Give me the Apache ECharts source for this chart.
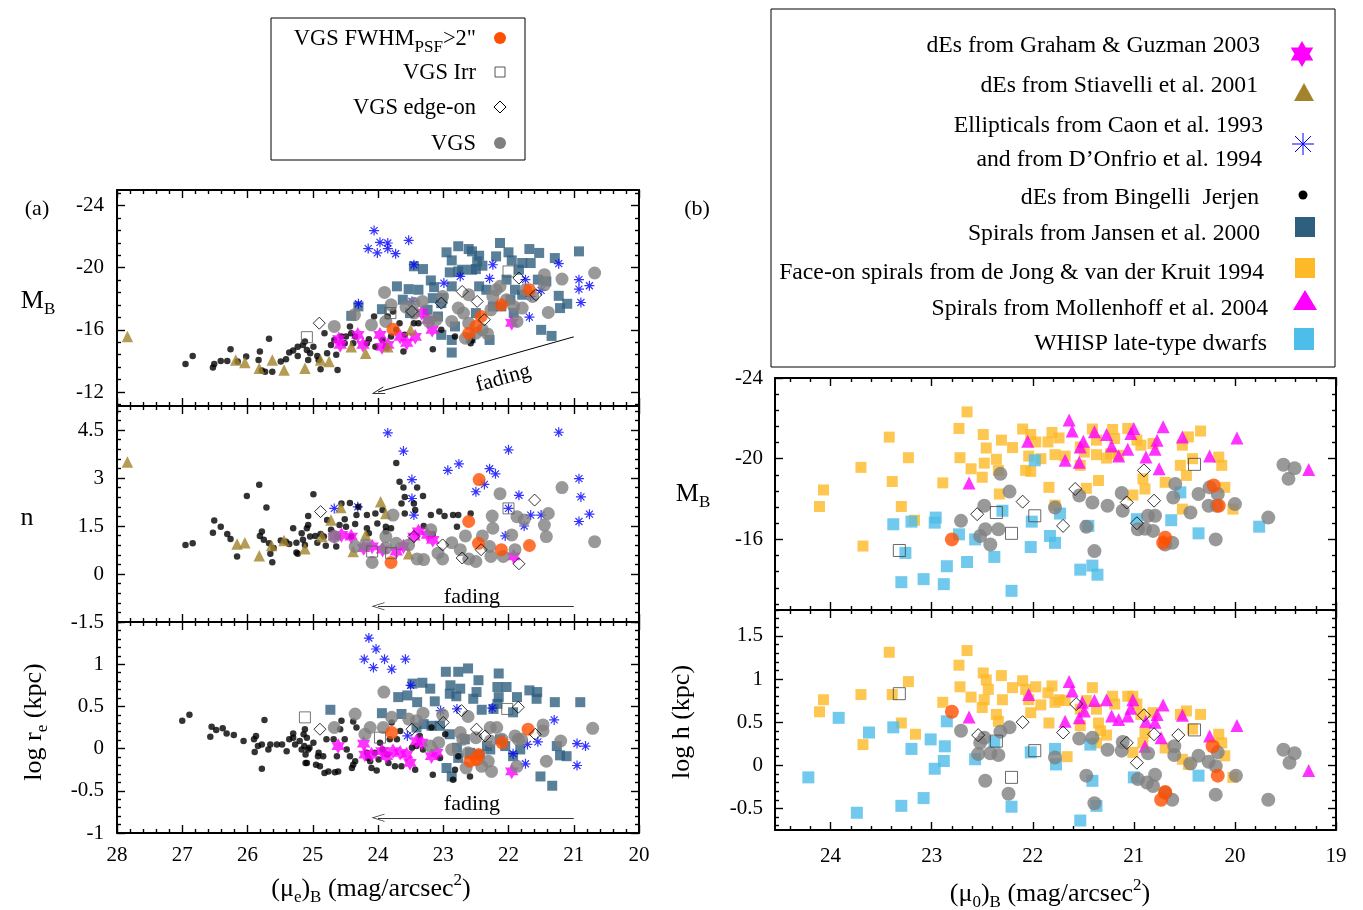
<!DOCTYPE html>
<html><head><meta charset="utf-8">
<script src="https://cdn.jsdelivr.net/npm/echarts@6.0.0/dist/echarts.min.js"></script>
<style>html,body{margin:0;padding:0;background:#fff}#c{width:1363px;height:910px}</style>
</head><body><div id="c"></div>
<script>
// ---------------- tick labels ----------------
const xTicksA = [28,27,26,25,24,23,22,21,20];
const yTicksMB_A = [-24,-20,-16,-12];
const yTicksN = [4.5,3,1.5,0,-1.5];
const yTicksRe = [1,0.5,0,-0.5,-1];
const xTicksB = [24,23,22,21,20,19];
const yTicksMB_B = [-24,-20,-16];
const yTicksH = [1.5,1,0.5,0,-0.5];

// ---------------- panel (a) top: mu_e vs M_B ----------------
const st_a1 = [[27.84,-15.57],[26.18,-14.06],[26.04,-13.9],[25.82,-13.53],[25.62,-14.06],[25.44,-13.42],[25.12,-13.53],[24.88,-14.06],[24.75,-13.96],[24.41,-14.92],[24.19,-14.49],[23.85,-14.92],[23.5,-16.0]];
const gg_a1 = [[24.58,-15.03],[24.31,-15.68],[24.23,-15.03],[23.97,-15.68],[23.94,-14.9],[23.85,-15.03],[23.66,-15.55],[23.56,-15.16],[23.43,-15.55],[23.23,-16.65],[23.17,-16.0],[23.33,-17.1],[21.95,-16.45],[24.6,-15.4]];
const bj_a1 = [[26.95,-13.81],[26.84,-14.32],[26.53,-13.57],[26.51,-13.81],[26.41,-14.0],[26.31,-14.0],[26.26,-14.75],[26.15,-13.96],[26.02,-14.28],[25.83,-14.06],[25.81,-14.6],[25.78,-13.38],[25.73,-13.31],[25.67,-15.42],[25.62,-13.31],[25.49,-13.96],[25.41,-14.11],[25.36,-14.54],[25.3,-14.67],[25.23,-14.92],[25.23,-14.32],[25.15,-15.03],[25.12,-15.25],[25.09,-14.71],[25.07,-14.06],[25.04,-14.49],[24.99,-14.92],[24.93,-14.32],[24.91,-14.06],[24.88,-13.46],[24.82,-15.78],[24.78,-14.49],[24.72,-15.03],[24.67,-15.35],[24.64,-14.39],[24.62,-13.42],[24.56,-15.57],[24.51,-15.14],[24.49,-15.57],[24.43,-16.22],[24.41,-15.78],[24.38,-15.14],[24.35,-15.57],[24.17,-15.14],[24.14,-15.4],[24.06,-16.86],[24.04,-14.92],[23.93,-15.35],[23.88,-14.92],[23.85,-16.86],[23.8,-15.57],[23.77,-17.18],[23.72,-16.0],[23.67,-16.43],[23.61,-14.6],[23.59,-15.68],[23.45,-16.43],[23.38,-16.43],[23.16,-14.75],[23.03,-16.0],[22.82,-15.57],[22.58,-15.14],[22.56,-15.35]];
const caon_a1 = [[24.06,-22.39],[24.15,-21.23],[24.01,-20.95],[23.97,-21.63],[23.85,-21.59],[23.85,-21.23],[23.73,-20.9],[23.53,-21.76],[23.45,-20.19],[22.99,-19.01],[22.74,-19.44],[22.24,-20.19],[22.29,-19.31],[21.74,-19.23],[21.66,-18.15],[21.5,-18.54],[21.23,-20.26],[20.92,-19.23],[20.92,-18.62],[20.76,-18.84],[20.89,-17.76],[21.68,-16.82],[24.3,-17.68],[23.48,-17.83]];
const jan_a1 = [[24.3,-17.51],[24.41,-16.9],[23.94,-17.33],[23.71,-18.8],[23.53,-18.62],[23.38,-18.58],[23.62,-17.94],[23.51,-17.08],[23.45,-20.09],[23.31,-19.91],[23.19,-19.18],[23.14,-18.75],[23.01,-18.04],[22.95,-20.99],[22.87,-20.47],[22.77,-21.38],[22.61,-21.2],[22.56,-21.05],[22.45,-20.77],[22.48,-20.41],[22.9,-19.7],[22.77,-19.76],[22.71,-19.87],[22.87,-18.8],[22.56,-19.87],[22.5,-19.91],[22.4,-20.13],[22.19,-20.73],[22.13,-21.59],[22.0,-20.99],[21.95,-20.47],[21.84,-19.87],[21.79,-20.3],[21.68,-21.2],[21.66,-20.3],[21.53,-20.95],[21.29,-20.62],[20.92,-21.05],[21.55,-19.23],[21.42,-19.12],[21.23,-18.19],[21.21,-17.4],[21.1,-17.68],[21.5,-16.0],[21.34,-15.61],[23.03,-15.68],[22.87,-15.35],[22.87,-14.54],[22.29,-15.35],[22.58,-15.46],[22.45,-18.8],[22.34,-18.58],[22.03,-19.23],[21.9,-18.58],[21.79,-18.26],[22.5,-17.08],[22.24,-17.51],[22.11,-17.51],[21.97,-17.94],[21.92,-17.08],[23.24,-17.29],[23.08,-16.86],[22.82,-16.22],[23.16,-18.04],[23.03,-17.72]];
const vgs_a1 = [[24.67,-16.22],[24.36,-16.97],[24.1,-16.32],[23.9,-18.41],[23.8,-17.61],[23.57,-17.46],[23.45,-17.72],[23.32,-17.83],[23.22,-16.54],[23.11,-16.65],[23.01,-18.15],[22.87,-16.54],[22.77,-17.4],[22.61,-18.26],[22.69,-17.08],[22.61,-16.43],[22.66,-15.46],[22.4,-16.0],[22.32,-15.74],[22.27,-17.29],[22.24,-18.15],[22.19,-18.58],[22.13,-18.8],[22.03,-17.94],[21.92,-17.51],[21.87,-16.54],[21.79,-17.4],[21.74,-18.58],[21.63,-18.15],[21.45,-19.55],[21.45,-18.9],[21.39,-17.12],[21.18,-19.27],[20.68,-19.66],[23.88,-16.54],[23.45,-17.08],[22.5,-15.78]];
const fw_a1 = [[23.77,-16.04],[22.5,-16.22],[22.42,-16.86],[22.11,-17.61],[21.68,-18.58],[22.61,-15.78]];
const irr_a1 = [[25.09,-15.53],[22.0,-19.76],[23.81,-17.08]];
const edge_a1 = [[24.9,-16.43],[22.71,-18.47],[22.48,-17.83],[21.84,-19.33],[21.58,-18.26],[23.48,-17.18],[22.37,-16.65],[23.03,-17.72]];

// ---------------- panel (a) middle: mu_e vs n ----------------
const st_a2 = [[27.84,3.5],[26.16,0.94],[26.04,0.98],[25.82,0.57],[25.63,0.89],[25.44,1.05],[25.12,0.79],[24.86,1.17],[24.72,1.69],[24.57,2.08],[24.38,0.7],[24.19,1.22],[23.96,2.26],[23.88,1.89],[23.53,0.63]];
const gg_a2 = [[24.56,1.22],[24.41,1.17],[24.22,0.81],[24.09,0.86],[23.93,0.76],[23.72,0.7],[23.61,0.86],[23.45,1.17],[23.38,1.33],[23.24,1.22],[23.16,1.07],[21.92,0.55],[24.67,1.17]];
const bj_a2 = [[26.95,0.91],[26.84,0.96],[26.53,1.29],[26.51,1.67],[26.41,1.48],[26.31,1.25],[26.26,1.09],[26.16,0.55],[26.01,2.44],[25.82,2.79],[25.81,1.19],[25.78,1.33],[25.75,1.07],[25.71,2.08],[25.67,0.96],[25.65,0.63],[25.62,0.37],[25.6,0.81],[25.49,1.05],[25.41,1.01],[25.36,0.94],[25.3,1.43],[25.25,0.98],[25.25,0.67],[25.23,0.63],[25.17,1.27],[25.15,1.07],[25.12,0.91],[25.09,1.43],[25.07,1.53],[25.07,1.81],[25.04,1.17],[24.99,2.49],[24.96,1.19],[24.93,0.98],[24.88,1.25],[24.83,1.17],[24.8,0.88],[24.78,1.69],[24.72,1.38],[24.64,0.86],[24.62,1.17],[24.59,1.53],[24.56,2.2],[24.51,1.71],[24.49,1.48],[24.43,2.22],[24.41,1.17],[24.35,1.56],[24.33,1.84],[24.3,2.1],[24.17,1.84],[24.17,1.43],[24.14,1.27],[24.04,1.89],[24.01,1.58],[23.93,2.0],[23.88,1.48],[23.88,1.33],[23.8,1.43],[23.72,3.47],[23.67,2.88],[23.64,2.2],[23.61,2.7],[23.59,2.41],[23.59,1.89],[23.45,2.2],[23.43,2.0],[23.4,2.7],[23.31,2.44],[23.3,1.5],[23.19,1.84],[23.16,1.25],[23.06,1.95],[22.98,1.81],[22.85,1.84],[22.79,1.48],[22.77,1.84],[22.58,1.89]];
const caon_a2 = [[23.85,4.41],[23.61,3.84],[23.48,2.95],[23.48,2.36],[23.45,1.84],[24.67,2.05],[24.31,2.1],[22.93,3.24],[22.76,3.44],[22.5,2.57],[22.37,2.8],[22.29,3.29],[22.2,3.13],[22.0,3.88],[22.0,2.05],[21.84,2.46],[21.76,1.5],[21.66,1.84],[21.5,1.84],[21.23,4.43],[20.92,2.98],[20.89,2.41],[20.76,1.87],[20.92,1.64],[22.05,1.19]];
const vgs_a2 = [[24.67,1.17],[24.35,0.86],[24.19,0.91],[24.09,0.36],[23.88,1.17],[23.77,1.84],[23.88,0.81],[23.72,0.96],[23.53,0.91],[23.4,0.47],[23.3,0.45],[23.19,1.38],[23.08,0.65],[23.01,0.47],[22.87,0.98],[22.74,0.76],[22.66,1.19],[22.61,0.47],[22.5,0.39],[22.4,1.19],[22.29,0.86],[22.27,0.55],[22.25,1.81],[22.24,1.43],[22.13,2.51],[22.08,0.55],[21.95,1.22],[21.9,0.76],[21.87,1.79],[21.76,1.69],[21.45,1.53],[21.39,1.89],[21.42,1.17],[21.18,2.7],[20.68,1.01]];
const fw_a2 = [[22.45,2.95],[22.61,1.64],[22.46,0.96],[22.11,0.76],[21.68,0.89],[23.8,0.36]];
const irr_a2 = [[24.09,0.7],[23.8,0.65],[22.0,2.05]];
const edge_a2 = [[24.88,1.95],[23.45,1.17],[23.01,0.91],[22.71,0.5],[22.42,0.76],[21.84,0.32],[21.6,2.31]];

// ---------------- panel (a) bottom: mu_e vs log r_e ----------------
const gg_a3 = [[24.61,0.03],[24.22,0.06],[24.2,-0.07],[24.1,-0.07],[23.94,-0.03],[23.87,-0.09],[23.77,-0.03],[23.66,-0.05],[23.56,-0.07],[23.51,-0.17],[23.41,0.09],[23.33,0.07],[23.18,-0.09],[23.1,-0.05],[21.95,-0.27]];
const caon_a3 = [[24.14,1.31],[24.03,1.18],[24.21,1.06],[23.9,1.06],[23.58,1.06],[24.07,0.96],[23.79,0.94],[23.5,0.75],[23.04,0.45],[22.79,0.47],[22.25,0.48],[21.3,0.34],[21.74,-0.18],[21.71,0.05],[21.93,-0.06],[21.55,0.08],[20.95,0.06],[20.95,-0.2],[20.82,0.03],[23.55,0.15]];
const bj_a3 = [[27.0,0.33],[26.89,0.4],[26.57,0.14],[26.55,0.26],[26.48,0.22],[26.38,0.24],[26.32,0.18],[26.21,0.16],[26.06,0.09],[25.9,0.11],[25.87,0.15],[25.84,0.03],[25.89,-0.04],[25.78,0.05],[25.74,0.34],[25.78,-0.24],[25.68,-0.01],[25.65,0.05],[25.55,0.05],[25.47,0.05],[25.4,-0.03],[25.36,0.11],[25.3,0.13],[25.3,0.18],[25.27,0.05],[25.2,0.09],[25.17,-0.01],[25.14,0.17],[25.13,0.03],[25.11,-0.07],[25.11,-0.17],[25.05,0.01],[24.95,-0.19],[24.92,-0.09],[24.82,-0.29],[24.66,-0.28],[25.12,0.23],[25.09,0.13],[25.07,-0.01],[25.09,-0.17],[24.99,0.07],[24.91,-0.05],[24.89,-0.21],[24.84,-0.09],[24.79,0.11],[24.76,-0.27],[24.68,0.11],[24.63,-0.09],[24.61,-0.27],[24.58,0.23],[24.56,0.33],[24.51,0.11],[24.48,-0.01],[24.43,-0.09],[24.4,-0.23],[24.38,-0.19],[24.35,-0.15],[24.38,0.32],[24.33,0.25],[24.17,-0.05],[24.15,-0.11],[24.12,-0.15],[24.1,-0.23],[24.05,-0.05],[24.02,-0.26],[23.99,-0.13],[23.97,0.07],[23.93,-0.01],[23.86,-0.07],[23.84,-0.17],[23.82,0.11],[23.79,0.31],[23.74,-0.21],[23.71,0.11],[23.66,0.21],[23.64,-0.21],[23.48,0.01],[23.43,-0.25],[23.41,0.03],[23.36,0.15],[23.31,-0.01],[23.18,0.25],[23.16,-0.31],[23.05,-0.11],[22.97,0.17],[22.85,-0.37],[22.82,-0.25],[22.77,-0.09],[22.59,-0.33]];
const jan_a3 = [[24.73,0.46],[23.94,0.42],[23.69,0.61],[23.55,0.63],[23.47,0.77],[23.4,0.55],[23.32,0.78],[23.2,0.71],[23.13,0.56],[22.96,0.91],[22.89,0.75],[22.9,0.65],[22.8,0.62],[22.77,0.91],[22.74,0.71],[22.62,0.95],[22.54,0.59],[22.49,0.67],[22.46,0.81],[22.41,0.46],[22.23,0.47],[22.17,0.73],[22.15,0.89],[22.03,0.73],[22.15,0.61],[22.17,0.53],[21.93,0.43],[21.87,0.61],[21.68,0.69],[21.56,0.67],[21.57,0.59],[21.29,0.55],[20.9,0.55],[21.26,0.03],[21.21,-0.08],[21.11,-0.09],[21.51,-0.33],[21.33,-0.44],[22.95,-0.23],[22.87,-0.33],[22.79,0.01],[22.67,0.11],[22.59,-0.05],[22.44,-0.07],[22.33,0.03],[22.28,-0.01],[21.82,-0.01],[22.9,0.17],[23.05,0.27],[23.18,0.27],[23.3,0.29],[23.64,0.41],[23.41,0.25],[22.13,0.11],[22.05,0.03],[21.93,-0.09],[22.77,-0.11]];
const vgs_a3 = [[23.91,0.67],[24.35,0.41],[24.67,0.25],[24.2,0.17],[24.12,0.25],[23.92,0.25],[23.79,0.37],[23.53,0.35],[23.41,0.33],[23.31,0.42],[23.2,0.03],[23.07,0.07],[23.01,0.4],[22.87,-0.01],[22.74,0.19],[22.7,0.11],[22.62,0.38],[22.65,-0.23],[22.62,-0.05],[22.5,0.13],[22.41,-0.21],[22.31,-0.15],[22.26,-0.27],[22.28,0.25],[22.18,0.25],[22.1,0.11],[21.9,0.15],[21.85,0.11],[21.8,0.11],[21.87,-0.21],[21.47,0.28],[21.47,0.21],[21.42,-0.15],[21.2,0.09],[20.71,0.24],[22.28,0.09]];
const fw_a3 = [[23.79,0.19],[22.46,-0.07],[22.49,-0.13],[22.59,-0.15],[21.7,0.23],[22.1,0.07]];
const irr_a3 = [[25.12,0.37],[23.97,0.13],[22.02,0.47]];
const edge_a3 = [[24.89,0.23],[23.48,0.23],[23.0,0.31],[22.72,0.45],[22.49,0.23],[22.36,0.15],[21.85,0.49],[21.59,0.17]];

// ---------------- panel (b) top: mu_0 vs M_B ----------------
const dj_b1 = [[24.11,-17.63],[24.07,-18.45],[23.7,-19.57],[23.68,-15.67],[23.42,-21.07],[23.39,-18.87],[23.3,-17.63],[23.23,-20.05],[23.17,-16.95],[22.89,-18.8],[22.72,-20.05],[22.73,-21.5],[22.65,-22.32],[22.61,-19.5],[22.5,-19.08],[22.48,-19.78],[22.49,-21.2],[22.46,-20.53],[22.36,-19.97],[22.34,-19.42],[22.31,-20.92],[22.2,-20.55],[22.33,-18.25],[22.1,-21.47],[22.07,-19.42],[22.02,-19.37],[22.04,-20.13],[22.02,-21.2],[21.97,-20.83],[21.92,-20.0],[21.85,-20.83],[21.81,-21.3],[21.78,-20.2],[21.74,-21.03],[21.68,-20.13],[21.84,-18.58],[21.53,-20.58],[21.53,-19.67],[21.49,-20.33],[21.47,-18.53],[21.41,-21.47],[21.37,-20.2],[21.35,-18.92],[21.37,-20.92],[21.27,-20.03],[21.23,-20.25],[21.21,-21.45],[21.19,-21.0],[21.15,-20.17],[21.06,-21.5],[21.01,-18.2],[20.97,-20.92],[20.93,-20.67],[20.91,-19.0],[20.89,-18.5],[20.81,-20.75],[20.69,-18.83],[20.54,-19.67],[20.52,-20.67],[20.48,-19.17],[20.46,-21.08],[20.42,-20.0],[20.34,-21.37],[20.52,-17.5],[20.16,-20.08],[20.13,-19.67],[20.1,-18.58],[20.02,-17.5],[21.78,-17.7]];
const mo_b1 = [[22.63,-18.8],[22.05,-20.87],[21.64,-21.92],[21.61,-21.37],[21.68,-19.92],[21.54,-19.83],[21.53,-20.58],[21.5,-20.87],[21.39,-21.33],[21.27,-21.2],[21.22,-20.63],[21.15,-20.13],[21.06,-20.47],[21.03,-21.25],[21.0,-21.5],[20.88,-20.08],[20.77,-20.92],[20.79,-20.47],[20.75,-19.5],[20.71,-21.58],[20.52,-21.08],[20.25,-20.13],[19.98,-21.03],[19.27,-19.47]];
const wh_b1 = [[23.38,-16.75],[23.26,-15.33],[23.3,-13.88],[23.2,-16.88],[23.08,-14.03],[22.97,-16.83],[22.96,-17.08],[22.88,-13.78],[22.85,-14.67],[22.73,-16.25],[22.65,-14.88],[22.57,-16.0],[22.38,-15.13],[22.3,-17.42],[22.21,-13.45],[22.02,-15.62],[22.01,-16.88],[21.98,-19.92],[21.83,-16.17],[21.78,-15.83],[21.73,-17.28],[21.53,-14.5],[21.41,-14.7],[21.36,-14.25],[21.45,-16.67],[20.97,-17.0],[20.63,-16.95],[20.36,-16.3],[19.76,-16.63],[20.54,-18.33]];
const vgs_b1 = [[22.71,-16.92],[22.52,-16.17],[22.48,-17.67],[22.47,-16.5],[22.42,-15.75],[22.34,-16.5],[22.32,-19.25],[22.23,-18.37],[21.78,-17.58],[21.54,-18.17],[21.47,-16.63],[21.41,-17.83],[21.39,-15.42],[21.26,-17.67],[21.12,-18.3],[21.11,-17.42],[20.96,-16.5],[20.86,-17.17],[20.81,-16.42],[20.79,-17.17],[20.69,-15.75],[20.62,-15.83],[20.61,-18.08],[20.59,-18.75],[20.44,-17.33],[20.36,-18.25],[20.26,-17.67],[20.25,-18.58],[20.18,-17.67],[20.17,-18.25],[20.19,-16.0],[20.0,-17.75],[19.67,-17.08],[19.52,-19.7],[19.47,-19.0],[19.41,-19.53],[20.89,-16.53]];
const fw_b1 = [[22.8,-16.0],[20.71,-15.83],[20.69,-16.08],[20.21,-18.67],[20.16,-17.67]];
const irr_b1 = [[23.32,-15.45],[22.36,-17.33],[22.21,-16.3],[21.98,-17.17],[20.4,-19.72]];
const edge_b1 = [[22.55,-17.25],[22.1,-17.87],[21.7,-16.67],[21.58,-18.5],[21.07,-17.83],[20.9,-19.42],[20.8,-17.92],[20.97,-16.8]];

// ---------------- panel (b) bottom: mu_0 vs log h ----------------
const dj_b2 = [[24.11,0.62],[24.07,0.76],[23.7,0.82],[23.68,0.24],[23.42,1.31],[23.39,0.82],[23.3,0.49],[23.23,0.97],[23.16,0.36],[22.89,0.73],[22.73,1.16],[22.72,0.91],[22.65,1.33],[22.61,0.79],[22.5,0.67],[22.48,0.76],[22.49,1.07],[22.46,0.99],[22.44,0.88],[22.36,0.59],[22.34,0.51],[22.31,1.04],[22.3,0.76],[22.2,0.9],[22.1,0.98],[22.07,0.88],[22.04,0.76],[22.02,0.61],[21.97,0.91],[21.92,0.7],[21.85,0.84],[21.81,0.92],[21.78,0.73],[21.74,0.76],[21.68,0.75],[21.84,0.49],[21.66,0.1],[21.53,0.46],[21.53,0.65],[21.47,0.75],[21.41,0.9],[21.37,0.65],[21.35,0.49],[21.33,0.4],[21.27,0.35],[21.21,0.8],[21.19,0.71],[21.06,0.8],[21.01,0.15],[20.97,0.71],[20.93,0.59],[20.91,0.26],[20.89,0.38],[20.81,0.61],[20.69,0.2],[20.54,0.59],[20.52,0.07],[20.48,0.63],[20.46,0.01],[20.42,0.42],[20.34,0.59],[20.16,0.36],[20.13,0.26],[20.1,0.11],[20.02,-0.14],[21.01,0.8],[21.37,0.26]];
const mo_b2 = [[22.63,0.56],[22.04,0.82],[21.64,0.97],[21.61,0.86],[21.68,0.51],[21.54,0.55],[21.51,0.73],[21.49,0.63],[21.39,0.75],[21.27,0.76],[21.22,0.57],[21.15,0.53],[21.06,0.57],[21.01,0.76],[21.03,0.66],[20.88,0.51],[20.77,0.59],[20.79,0.5],[20.73,0.32],[20.71,0.7],[20.52,0.58],[20.25,0.34],[19.98,0.46],[19.27,-0.06],[20.89,0.22]];
const wh_b2 = [[24.22,-0.14],[23.92,0.55],[23.74,-0.55],[23.62,0.38],[23.38,0.44],[23.3,-0.47],[23.2,0.19],[23.08,-0.38],[23.01,0.3],[22.97,-0.04],[22.87,0.22],[22.88,0.05],[22.85,0.51],[22.57,0.07],[22.38,0.27],[22.21,-0.48],[22.02,0.15],[21.78,0.19],[21.77,0.01],[21.43,0.24],[21.41,-0.18],[21.37,-0.47],[21.53,-0.64],[21.0,-0.14],[20.36,-0.12]];
const vgs_b2 = [[22.71,0.4],[22.52,0.26],[22.48,0.32],[22.54,0.13],[22.47,-0.18],[22.42,0.14],[22.34,0.12],[22.32,0.39],[22.23,0.44],[22.24,-0.33],[21.78,0.09],[21.54,0.31],[21.47,-0.12],[21.41,0.32],[21.39,-0.44],[21.26,0.18],[21.11,0.27],[21.12,0.17],[20.96,-0.16],[20.86,0.14],[20.87,-0.2],[20.81,-0.24],[20.79,-0.11],[20.69,-0.32],[20.62,-0.4],[20.6,0.22],[20.6,0.12],[20.44,0.02],[20.36,0.11],[20.26,0.04],[20.19,-0.01],[20.17,0.15],[20.19,-0.34],[19.99,-0.12],[19.67,-0.4],[19.52,0.18],[19.46,0.03],[19.41,0.14]];
const fw_b2 = [[22.8,0.62],[20.69,-0.31],[20.73,-0.4],[20.22,0.22],[20.17,-0.12]];
const irr_b2 = [[23.32,0.83],[22.36,0.28],[22.21,-0.14],[21.98,0.17],[20.4,0.41]];
const edge_b2 = [[22.54,0.35],[22.1,0.5],[21.7,0.38],[21.57,0.71],[21.07,0.26],[20.9,0.58],[20.8,0.36],[20.56,0.35],[20.97,0.03]];

// ---------------- styling ----------------
const FONT = 'Liberation Serif';
const C = {gg:'#ff00ff', st:'#a3832b', caon:'#0000ff', bj:'#000000', jan:'#2f5f7f', dj:'#fdb927', mo:'#ff00ff', wh:'#4dbde9', vgs:'#808080', fw:'#ff4f00'};
const STAR = 'path://M0,-10L2.887,-5L8.66,-5L5.774,0L8.66,5L2.887,5L0,10L-2.887,5L-8.66,5L-5.774,0L-8.66,-5L-2.887,-5Z';
const AST = 'path://M5,0L5,10M0,5L10,5M1.5,1.5L8.5,8.5M1.5,8.5L8.5,1.5';
const ARROW = 'path://M0,10L5,0L10,10L9,10L5,2L1,10Z';

function minorVals(lo, hi, step, majors, origin) {
  const out = [];
  for (let k = Math.ceil((lo - origin) / step - 1e-9); origin + k * step <= hi + 1e-9; k++) {
    const v = +(origin + k * step).toFixed(4);
    if (!majors.some(m => Math.abs(m - v) < 1e-6)) out.push(v);
  }
  return out;
}

const xAxes = [], yAxes = [];
function addAxes(list, kind, gi, min, max, inverse, majors, minors, labels, margin) {
  const pos = kind === 'x' ? ['bottom', 'top'] : ['left', 'right'];
  const base = {type: 'value', gridIndex: gi, min, max, inverse, splitLine: {show: false}, minorTick: {show: false}, axisPointer: {show: false}, silent: true};
  const line = {show: true, onZero: false, lineStyle: {color: '#000', width: 2}};
  const tl = {color: '#000', width: 1.4};
  list.push(Object.assign({}, base, {position: pos[0], axisLine: line,
    axisTick: {show: true, inside: true, length: 8, customValues: majors, lineStyle: tl},
    axisLabel: {show: labels, customValues: majors, margin, color: '#000', fontFamily: FONT, fontSize: 21}}));
  list.push(Object.assign({}, base, {position: pos[0], axisLine: {show: false, onZero: false},
    axisTick: {show: true, inside: true, length: 4, customValues: minors, lineStyle: tl}, axisLabel: {show: false}}));
  list.push(Object.assign({}, base, {position: pos[1], axisLine: line,
    axisTick: {show: true, inside: true, length: 8, customValues: majors, lineStyle: tl}, axisLabel: {show: false}}));
  list.push(Object.assign({}, base, {position: pos[1], axisLine: {show: false, onZero: false},
    axisTick: {show: true, inside: true, length: 4, customValues: minors, lineStyle: tl}, axisLabel: {show: false}}));
}

const grids = [
  {left: 117, top: 190, width: 522, height: 216},
  {left: 117, top: 406, width: 522, height: 216},
  {left: 117, top: 622, width: 522, height: 211},
  {left: 775, top: 378, width: 561, height: 232},
  {left: 775, top: 610, width: 561, height: 220}
];
const xMinorA = minorVals(20, 28, 0.2, xTicksA, 20);
const xMinorB = minorVals(19, 24.55, 0.2, xTicksB, 19);
for (let g = 0; g < 3; g++) addAxes(xAxes, 'x', g, 20, 28, true, xTicksA, xMinorA, g === 2, 12);
for (let g = 3; g < 5; g++) addAxes(xAxes, 'x', g, 19, 24.55, true, xTicksB, xMinorB, g === 4, 16);
addAxes(yAxes, 'y', 0, -25, -11.1, true, yTicksMB_A, minorVals(-25, -11.1, 0.8, yTicksMB_A, -24), true, 13);
addAxes(yAxes, 'y', 1, -1.5, 5.25, false, yTicksN, minorVals(-1.5, 5.25, 0.3, yTicksN, 0), true, 13);
addAxes(yAxes, 'y', 2, -1, 1.5, false, yTicksRe, minorVals(-1, 1.5, 0.1, yTicksRe, 0), true, 13);
addAxes(yAxes, 'y', 3, -24, -12.5, true, yTicksMB_B, minorVals(-24, -12.5, 0.8, yTicksMB_B, -24), true, 12);
addAxes(yAxes, 'y', 4, -0.75, 1.8, false, yTicksH, minorVals(-0.75, 1.8, 0.1, yTicksH, 0), true, 12);

const series = [];
function sc(name, data, g, symbol, size, style, z) {
  series.push({type: 'scatter', name, data, xAxisIndex: g * 4, yAxisIndex: g * 4, symbol, symbolSize: size,
    itemStyle: style, z: z || 2, silent: true, animation: false});
  return series[series.length - 1];
}
const open = c => ({color: 'rgba(0,0,0,0)', borderColor: c, borderWidth: 1});
function fadeLine(s, a, b, col) {
  s.markLine = {silent: true, animation: false, symbol: ['none', ARROW], symbolSize: [8, 13],
    lineStyle: {color: col, width: 1, type: 'solid'}, label: {show: false}, emphasis: {disabled: true},
    data: [[{coord: a}, {coord: b}]]};
}
// left panels
const leftSets = [
  {jan: jan_a1, caon: caon_a1, bj: bj_a1, gg: gg_a1, st: st_a1, vgs: vgs_a1, fw: fw_a1, irr: irr_a1, edge: edge_a1},
  {jan: [], caon: caon_a2, bj: bj_a2, gg: gg_a2, st: st_a2, vgs: vgs_a2, fw: fw_a2, irr: irr_a2, edge: edge_a2},
  {jan: jan_a3, caon: caon_a3, bj: bj_a3, gg: gg_a3, st: [], vgs: vgs_a3, fw: fw_a3, irr: irr_a3, edge: edge_a3}
];
leftSets.forEach((d, g) => {
  sc('Spirals from Jansen et al. 2000', d.jan, g, 'rect', 10, {color: C.jan});
  sc('Ellipticals from Caon et al. 1993', d.caon, g, AST, 10, {color: 'rgba(0,0,0,0)', borderColor: C.caon, borderWidth: 1.2});
  const bj = sc('dEs from Bingelli Jerjen', d.bj, g, 'circle', 6.5, {color: C.bj}, 3);
  sc('dEs from Graham & Guzman 2003', d.gg, g, STAR, [13.5, 15.5], {color: C.gg}, 3);
  sc('dEs from Stiavelli et al. 2001', d.st, g, 'triangle', 11.5, {color: C.st}, 3);
  sc('VGS', d.vgs, g, 'circle', 13, {color: C.vgs}, 4);
  sc('VGS FWHM>2', d.fw, g, 'circle', 13, {color: C.fw}, 4);
  sc('VGS Irr', d.irr, g, 'rect', 11, open('#555'), 5);
  sc('VGS edge-on', d.edge, g, 'diamond', 12, open('#000'), 5);
  if (g === 0) fadeLine(bj, [21, -15.55], [24, -12.0], '#000');
  if (g === 1) fadeLine(bj, [21, -1.01], [24, -1.01], '#333');
  if (g === 2) fadeLine(bj, [21, -0.82], [24, -0.82], '#333');
});
// right panels
const rightSets = [
  {dj: dj_b1, mo: mo_b1, wh: wh_b1, vgs: vgs_b1, fw: fw_b1, irr: irr_b1, edge: edge_b1},
  {dj: dj_b2, mo: mo_b2, wh: wh_b2, vgs: vgs_b2, fw: fw_b2, irr: irr_b2, edge: edge_b2}
];
rightSets.forEach((d, i) => {
  const g = 3 + i;
  sc('Face-on spirals from de Jong & van der Kruit 1994', d.dj, g, 'rect', 11, {color: C.dj});
  sc('Spirals from Mollenhoff et al. 2004', d.mo, g, 'triangle', 13, {color: C.mo}, 3);
  sc('WHISP late-type dwarfs', d.wh, g, 'rect', 12, {color: C.wh}, 3);
  sc('VGS', d.vgs, g, 'circle', 14, {color: C.vgs}, 4);
  sc('VGS FWHM>2', d.fw, g, 'circle', 14, {color: C.fw}, 4);
  sc('VGS Irr', d.irr, g, 'rect', 12, open('#444'), 5);
  sc('VGS edge-on', d.edge, g, 'diamond', 13, open('#000'), 5);
});

const chart = echarts.init(document.getElementById('c'), null, {renderer: 'canvas'});
chart.setOption({animation: false, backgroundColor: '#fff', grid: grids, xAxis: xAxes, yAxis: yAxes, series});

// ---------------- graphic: titles, legends, annotations ----------------
const RICH = {
  s: {fontSize: 17, fontFamily: FONT, fill: '#000', lineHeight: 16, verticalAlign: 'bottom'},
  p: {fontSize: 17, fontFamily: FONT, fill: '#000', lineHeight: 16, verticalAlign: 'top'}
};
function txt(text, x, y, size, align, rot) {
  return {type: 'text', x, y, rotation: rot || 0, z: 100, silent: true,
    style: {text, x: 0, y: 0, fill: '#000', fontFamily: FONT, fontSize: size, lineHeight: 34,
      align: align || 'center', verticalAlign: 'middle', rich: RICH}};
}
function starPts(cx, cy, r) {
  const pts = [];
  for (let k = 0; k < 12; k++) {
    const a = (-90 + 30 * k) * Math.PI / 180, rr = k % 2 === 0 ? r : r / Math.sqrt(3);
    pts.push([cx + rr * Math.cos(a), cy + rr * Math.sin(a)]);
  }
  return pts;
}
const G = [];
G.push(txt('(a)', 37, 209, 22));
G.push(txt('M{s|B}', 38, 301, 26));
G.push(txt('n', 27, 518, 26));
G.push(txt('log r{s|e} (kpc)', 34, 722, 26, 'center', Math.PI / 2));
G.push(txt('(μ{s|e}){s|B} (mag/arcsec{p|2})', 371, 889, 26));
G.push(txt('(b)', 697, 209, 22));
G.push(txt('M{s|B}', 693, 494, 26));
G.push(txt('log h (kpc)', 682, 722, 26, 'center', Math.PI / 2));
G.push(txt('(μ{s|0}){s|B} (mag/arcsec{p|2})', 1050, 894, 26));

// legend (a)
G.push({type: 'rect', shape: {x: 271, y: 18, width: 254, height: 142}, style: {fill: '#fff', stroke: '#000', lineWidth: 1}, z: 90});
G.push(txt('VGS FWHM{s|PSF}>2"', 476, 39.5, 22.5, 'right'));
G.push(txt('VGS Irr', 476, 73.5, 22.5, 'right'));
G.push(txt('VGS edge-on', 476, 108.5, 22.5, 'right'));
G.push(txt('VGS', 476, 144.5, 22.5, 'right'));
G.push({type: 'circle', shape: {cx: 500, cy: 38, r: 6}, style: {fill: C.fw}, z: 100});
G.push({type: 'rect', shape: {x: 495, y: 67, width: 10, height: 10}, style: {fill: '#fff', stroke: '#555', lineWidth: 1}, z: 100});
G.push({type: 'polygon', shape: {points: [[500, 101], [506, 107], [500, 113], [494, 107]]}, style: {fill: '#fff', stroke: '#000', lineWidth: 1}, z: 100});
G.push({type: 'circle', shape: {cx: 500, cy: 143, r: 6}, style: {fill: C.vgs}, z: 100});

// legend (b)
G.push({type: 'rect', shape: {x: 771, y: 9, width: 564, height: 358}, style: {fill: '#fff', stroke: '#000', lineWidth: 1}, z: 90});
const leg2 = [
  ['dEs from Graham & Guzman 2003', 1260, 46],
  ['dEs from Stiavelli et al. 2001', 1258, 86],
  ['Ellipticals from Caon et al. 1993', 1263, 126],
  ['and from D’Onfrio et al. 1994', 1262, 160],
  ['dEs from Bingelli  Jerjen', 1259, 198],
  ['Spirals from Jansen et al. 2000', 1260, 234],
  ['Face-on spirals from de Jong & van der Kruit 1994', 1264, 273],
  ['Spirals from Mollenhoff et al. 2004', 1268, 309],
  ['WHISP late-type dwarfs', 1267, 344]
];
leg2.forEach(r => G.push(txt(r[0], r[1], r[2], 23.7, 'right')));
G.push({type: 'polygon', shape: {points: starPts(1302, 54, 13)}, style: {fill: C.gg}, z: 100});
G.push({type: 'polygon', shape: {points: [[1304, 83], [1314, 101], [1294, 101]]}, style: {fill: C.st}, z: 100});
[[0, -11, 0, 11], [-11, 0, 11, 0], [-8, -8, 8, 8], [-8, 8, 8, -8]].forEach(l =>
  G.push({type: 'line', shape: {x1: 1303 + l[0], y1: 144 + l[1], x2: 1303 + l[2], y2: 144 + l[3]}, style: {stroke: C.caon, lineWidth: 1}, z: 100}));
G.push({type: 'circle', shape: {cx: 1303, cy: 195, r: 4.5}, style: {fill: C.bj}, z: 100});
G.push({type: 'rect', shape: {x: 1295, y: 217, width: 20, height: 20}, style: {fill: C.jan}, z: 100});
G.push({type: 'rect', shape: {x: 1295, y: 258, width: 20, height: 20}, style: {fill: C.dj}, z: 100});
G.push({type: 'polygon', shape: {points: [[1305, 290], [1317, 310], [1293, 310]]}, style: {fill: C.mo}, z: 100});
G.push({type: 'rect', shape: {x: 1294, y: 328, width: 20, height: 22}, style: {fill: C.wh}, z: 100});

// "fading" annotations placed through the axes
const fadeTexts = [[0, 22.08, -12.97, 0.274], [4, 22.56, -0.67, 0], [8, 22.56, -0.645, 0]];
fadeTexts.forEach(f => {
  const p = chart.convertToPixel({xAxisIndex: f[0], yAxisIndex: f[0]}, [f[1], f[2]]);
  G.push(txt('fading', p[0], p[1] + 1.5, 22, 'center', f[3]));
});
chart.setOption({graphic: G});
</script></body></html>
